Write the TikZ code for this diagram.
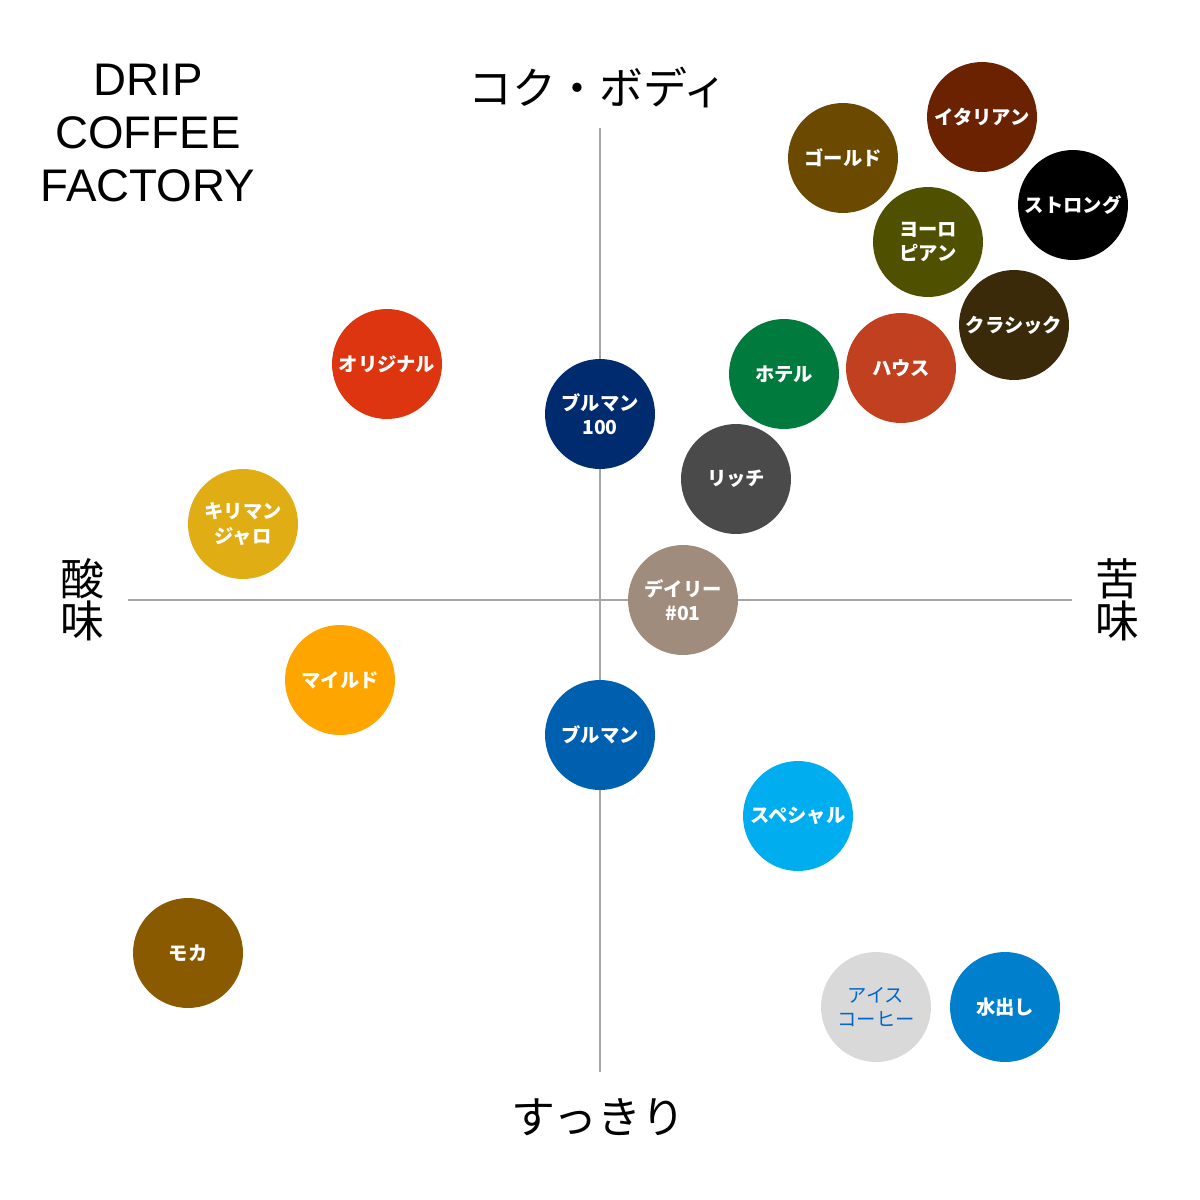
\documentclass[tikz,border=0pt]{standalone}
\usepackage{fontspec}
\setmainfont{Liberation Sans}
\newfontfamily\cjk{Noto Sans CJK JP}
\usetikzlibrary{positioning}

\definecolor{cItalian}{HTML}{6B2200}
\definecolor{cGold}{HTML}{6B4A00}
\definecolor{cEuro}{HTML}{4F5000}
\definecolor{cClassic}{HTML}{3A2A0A}
\definecolor{cHouse}{HTML}{C04020}
\definecolor{cHotel}{HTML}{007A3D}
\definecolor{cOriginal}{HTML}{DC3510}
\definecolor{cBM}{HTML}{002B6E}
\definecolor{cRich}{HTML}{4A4A4A}
\definecolor{cKili}{HTML}{E0AD15}
\definecolor{cDaily}{HTML}{A08C7D}
\definecolor{cMild}{HTML}{FFA500}
\definecolor{cBlue}{HTML}{0060B0}
\definecolor{cSpecial}{HTML}{00AEEF}
\definecolor{cMocha}{HTML}{8A5A00}
\definecolor{cIce}{HTML}{D9D9D9}
\definecolor{cIceText}{HTML}{0066CC}
\definecolor{cCold}{HTML}{0080CC}

\tikzset{
  bean/.style={circle, fill=#1, minimum size=2.2cm, inner sep=0pt, text=white,
    font=\cjk\bfseries\fontsize{11}{14}\selectfont, align=center},
  axislabel/.style={font=\cjk\fontsize{25}{28}\selectfont, align=center},
  axisline/.style={gray!70, line width=1.2pt}
}

\begin{document}
\begin{tikzpicture}[x=0.02cm, y=-0.02cm]
    \useasboundingbox (0,0) rectangle (1200,1200);

    % axes
    \coordinate (top) at (600,128);
    \coordinate (bottom) at (600,1072);
    \coordinate (left) at (128,600);
    \coordinate (right) at (1072,600);
    \draw[axisline] (top) -- (bottom);
    \draw[axisline] (left) -- (right);

    % axis labels
    \node[axislabel] (body) at (598,88) {コク・ボディ};
    \node[axislabel] (clean) at (598,1117) {すっきり};
    \node[axislabel] (acid) at (82,600) {酸\\[-4pt]味};
    \node[axislabel] (bitter) at (1117,600) {苦\\[-4pt]味};

    % title
    \node[font=\fontsize{26}{30}\selectfont, align=center] (title) at (148,133) {DRIP\\COFFEE\\FACTORY};

    %%%%%%%%%%%%%%%%%%%%%%%%%%%%%%%%%%%%%%%%%%%%%%%%%%%%%%%%%

    % upper right
    \node[bean=cItalian] (italian) at (982,117) {イタリアン};
    \node[bean=cGold] (gold) at (843,158) {ゴールド};
    \node[bean=black] (strong) at (1073,205) {ストロング};
    \node[bean=cEuro] (euro) at (928,242) {ヨーロ\\ピアン};
    \node[bean=cClassic] (classic) at (1014,325) {クラシック};
    \node[bean=cHouse] (house) at (901,368) {ハウス};
    \node[bean=cHotel] (hotel) at (784,374) {ホテル};
    \node[bean=cRich] (rich) at (736,479) {リッチ};
    \node[bean=cBM] (bm100) at (600,414) {ブルマン\\100};

    % left side
    \node[bean=cOriginal] (original) at (387,364) {オリジナル};
    \node[bean=cKili] (kili) at (243,524) {キリマン\\ジャロ};
    \node[bean=cMild] (mild) at (340,680) {マイルド};
    \node[bean=cMocha] (mocha) at (188,953) {モカ};

    % centre and lower right
    \node[bean=cDaily] (daily) at (683,600) {デイリー\\\#01};
    \node[bean=cBlue] (bm) at (600,735) {ブルマン};
    \node[bean=cSpecial] (special) at (798,816) {スペシャル};
    \node[bean=cIce, text=cIceText, font=\cjk\fontsize{11}{14}\selectfont] (ice) at (876,1007) {アイス\\コーヒー};
    \node[bean=cCold] (cold) at (1005,1007) {水出し};

\end{tikzpicture}
\end{document}
